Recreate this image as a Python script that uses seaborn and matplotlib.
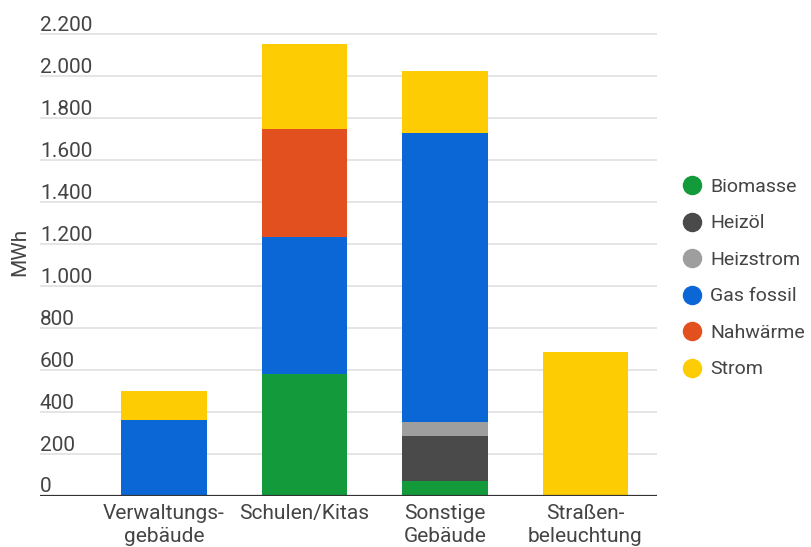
import matplotlib
matplotlib.use("Agg")
import matplotlib.pyplot as plt
import matplotlib.transforms as mtransforms
from matplotlib.lines import Line2D
import seaborn as sns
import numpy as np
import pandas as pd

categories = ["Verwaltungs-\ngebäude", "Schulen/Kitas", "Sonstige\nGebäude", "Straßen-\nbeleuchtung"]
series_names = ["Biomasse", "Heizöl", "Heizstrom", "Gas fossil", "Nahwärme", "Strom"]
biomasse = [0, 581, 71, 0]
heizoel = [0, 0, 216, 0]
heizstrom = [0, 0, 67, 0]
gas_fossil = [362, 654, 1378, 0]
nahwaerme = [0, 513, 0, 0]
strom = [138, 408, 292, 687]
tick_values = [0, 200, 400, 600, 800, 1000, 1200, 1400, 1600, 1800, 2000, 2200]
tick_labels = ["0", "200", "400", "600", "800", "1.000", "1.200", "1.400",
               "1.600", "1.800", "2.000", "2.200"]
y_label = "MWh"

colors = ["#129a3b", "#4a4a4a", "#9e9e9e", "#0c67d6", "#e2501f", "#fecc02"]

sns.set_theme(style="white")
plt.rcParams["font.family"] = ["Roboto", "DejaVu Sans"]

values = np.array([biomasse, heizoel, heizstrom, gas_fossil, nahwaerme, strom], dtype=float)
cum = np.cumsum(values, axis=0)

W, H = 811, 547
fig = plt.figure(figsize=(W / 100, H / 100), dpi=100)
ymax = 2210
px_per = (496 - 34.3) / 2200
top_px = 496 - ymax * px_per
ax = fig.add_axes([40 / W, (H - 496) / H, 617 / W, (496 - top_px) / H])

# draw stacked bars: top-most cumulative first
for i in range(len(series_names) - 1, -1, -1):
    df = pd.DataFrame({"cat": categories, "val": cum[i]})
    sns.barplot(data=df, x="cat", y="val", color=colors[i], width=0.61,
                saturation=1, ax=ax, order=categories, linewidth=0,
                edgecolor="none")

ax.set_xlim(-0.883, 3.51)
ax.set_ylim(0, ymax)
for s in ax.spines.values():
    s.set_visible(False)
ax.set_yticks(tick_values)
ax.yaxis.grid(True, color="#dedede", linewidth=1.1)
ax.set_axisbelow(True)
ax.tick_params(axis="y", length=0, labelleft=False)
ax.tick_params(axis="x", length=0, pad=6)
ax.axhline(0, color="#333333", linewidth=1.6, zorder=5)
ax.set_xlabel("")
ax.set_ylabel("")
ax.set_xticks(range(len(categories)))
ax.set_xticklabels(categories, fontsize=15, color="#444444", linespacing=1.25)

trans = mtransforms.blended_transform_factory(ax.transAxes, ax.transData)
for v, lab in zip(tick_values, tick_labels):
    ax.text(0.0, v, lab, transform=trans + mtransforms.ScaledTranslation(0, 3.5 / 100, fig.dpi_scale_trans),
            ha="left", va="baseline", fontsize=15, color="#444444")

fig.text(20 / W, 1 - 252 / H, y_label, rotation=90, ha="center", va="center",
         fontsize=15, color="#444444")

handles = [Line2D([0], [0], marker="o", linestyle="none", markersize=13,
                  markerfacecolor=c, markeredgecolor=c) for c in colors]
fig.legend(handles, series_names, loc="upper left", bbox_to_anchor=(680 / W, 1 - 178 / H),
           frameon=False, fontsize=14, labelcolor="#444444", handletextpad=0.35,
           labelspacing=0.95, handlelength=1.2, borderaxespad=0, borderpad=0)

fig.savefig("out.png", dpi=100, facecolor="white")
